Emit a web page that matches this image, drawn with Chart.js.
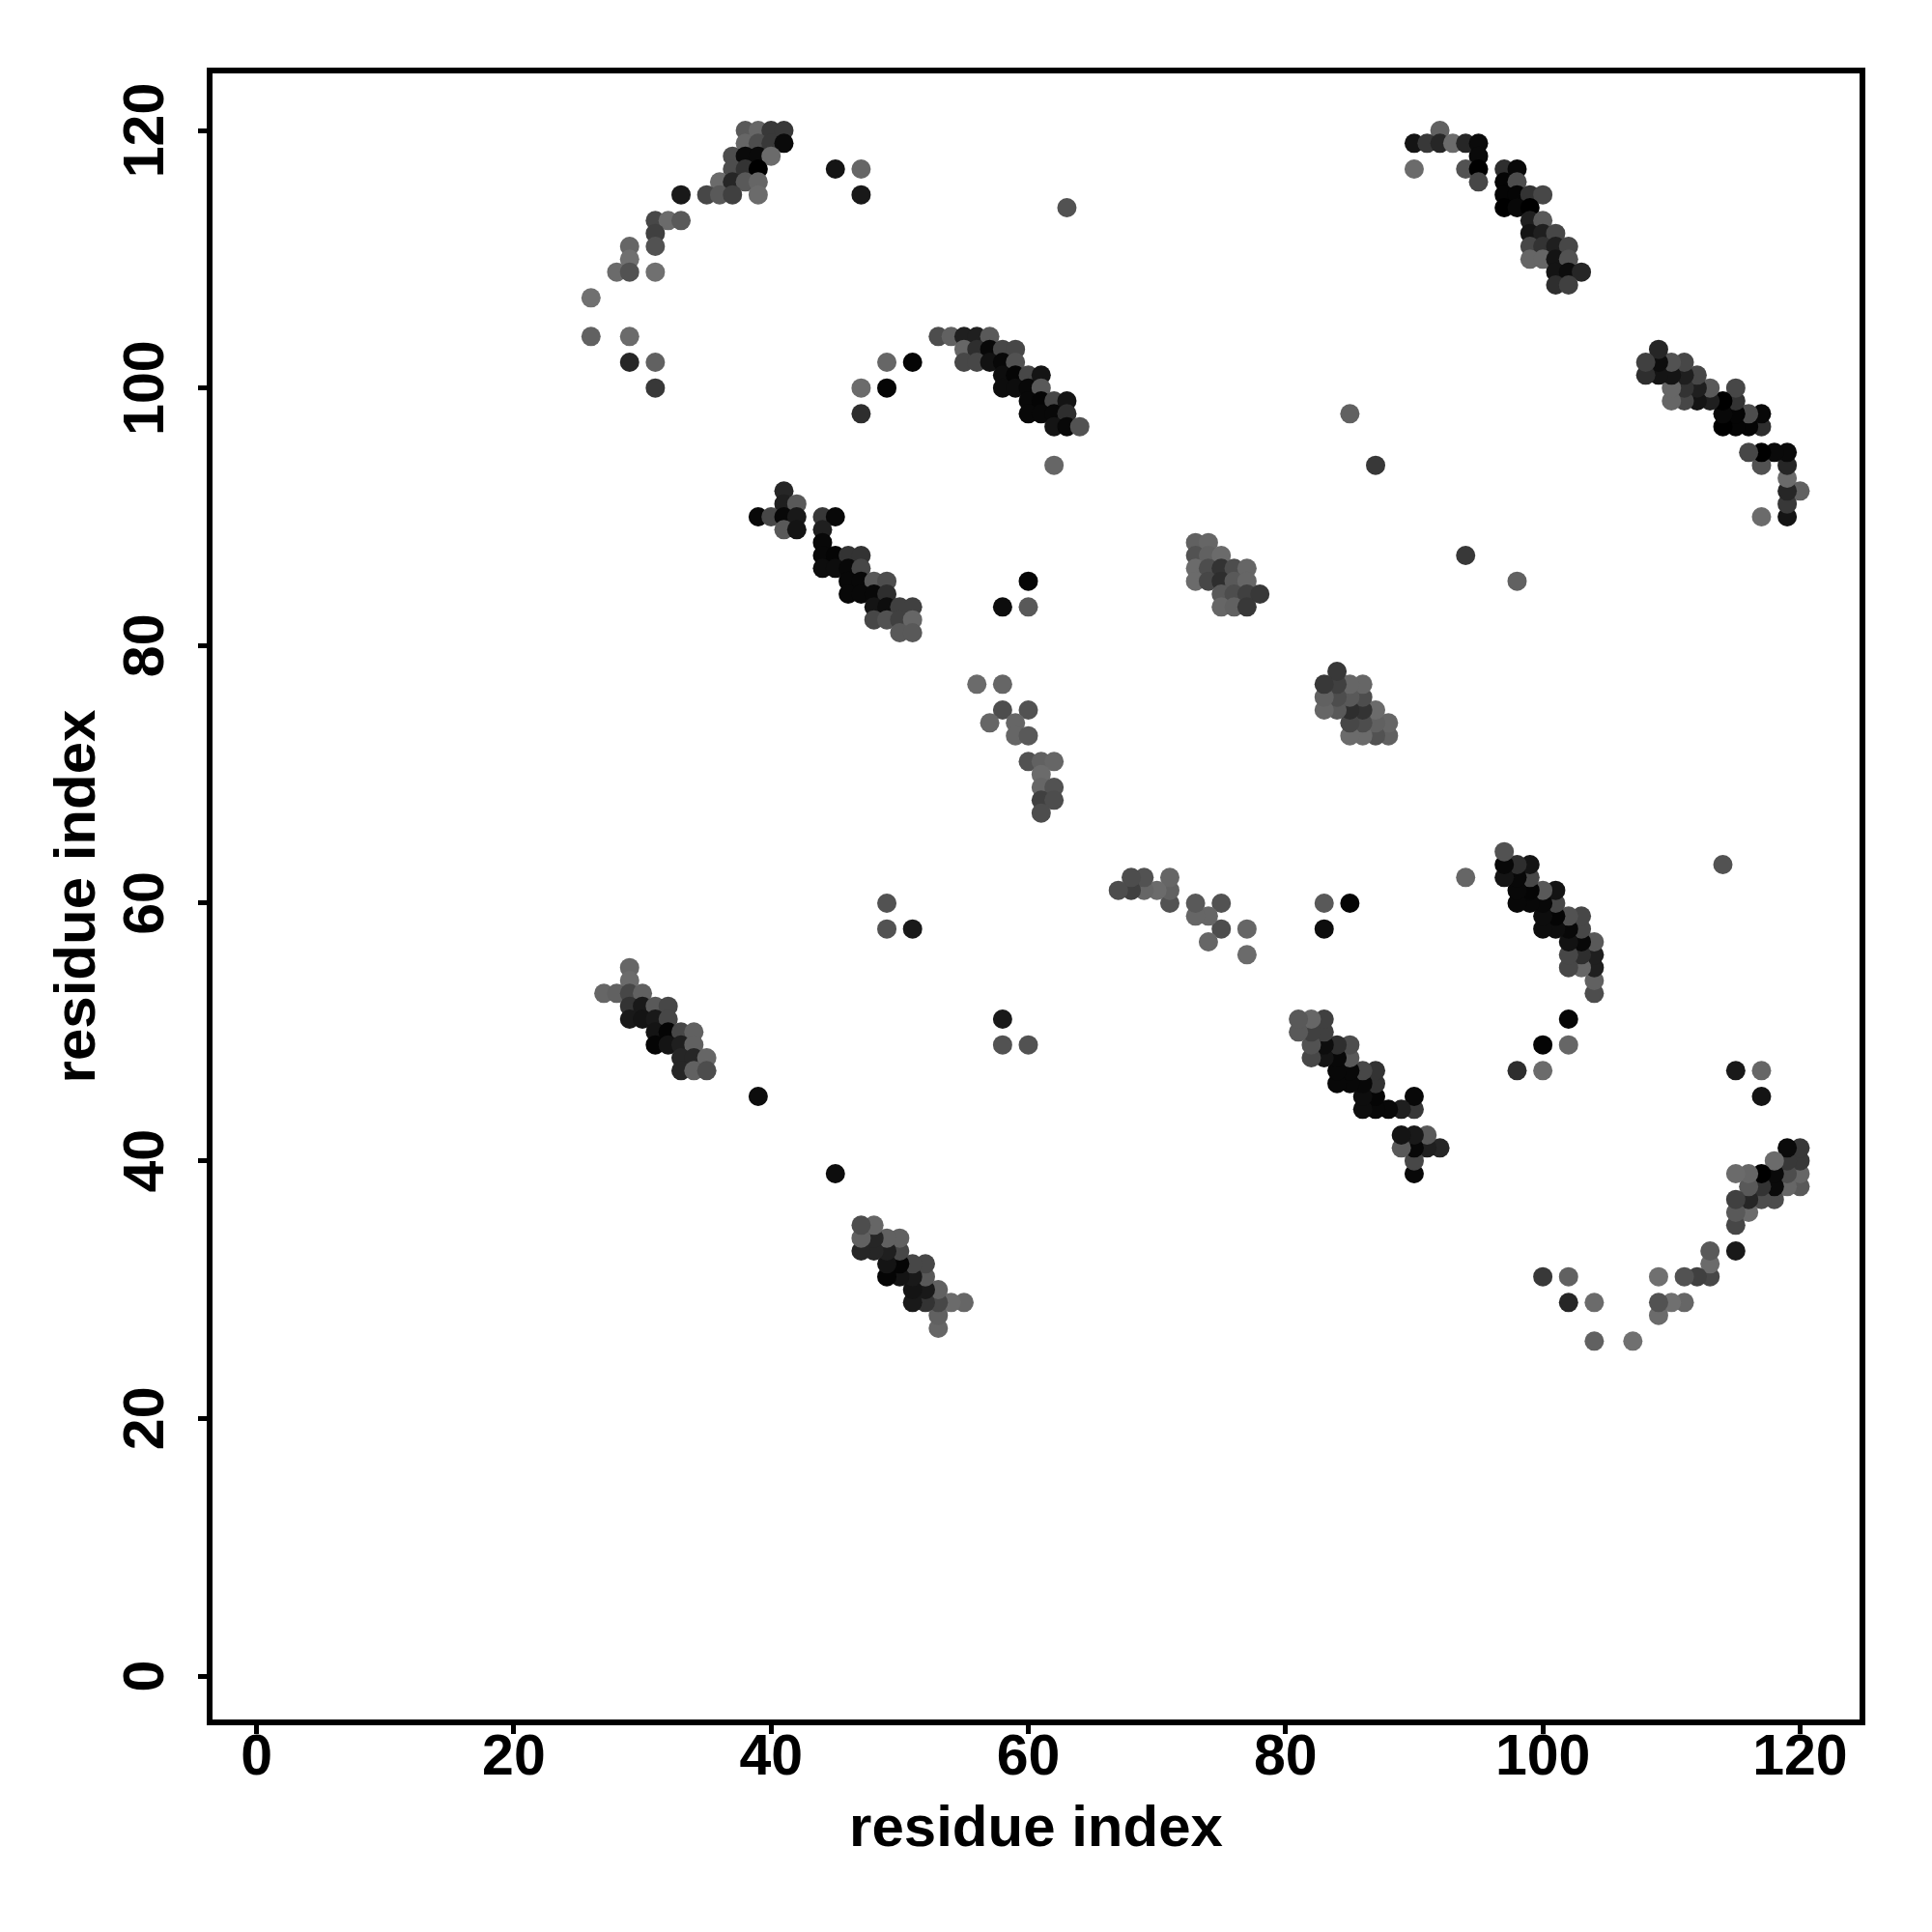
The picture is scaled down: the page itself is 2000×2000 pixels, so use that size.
<!DOCTYPE html>
<html>
<head>
<meta charset="utf-8">
<title>Residue contact map</title>
<script src="https://cdn.jsdelivr.net/npm/chart.js@4"></script>
<style>
  html, body { margin: 0; padding: 0; background: #fff; }
  #wrap { width: 2000px; height: 2000px; }
</style>
</head>
<body>
<div id="wrap"><canvas id="contactMap" width="2000" height="2000"></canvas></div>
<script>
const tickValues = [0, 20, 40, 60, 80, 100, 120];
const axisLabel = "residue index";

// upper triangle only, [i, j, score] - the map is symmetric so j,i is added below
const blockA = [
  [38,120,.65],[39,120,.6],[40,120,.78],[41,120,.78],
  [38,119,.6],[39,119,.7],[40,119,.78],[41,119,.96],
  [37,118,.7],[38,118,.96],[39,118,.96],[40,118,.58],
  [37,117,.7],[38,117,.8],[39,117,1],
  [36,116,.58],[37,116,.85],[38,116,.65],[39,116,.6],
  [33,115,.9],[35,115,.72],[36,115,.65],[37,115,.75],[39,115,.58],
  [31,113,.72],[32,113,.58],[33,113,.65],
  [31,112,.75],
  [29,111,.6],[31,111,.68],
  [29,110,.56],
  [28,109,.58],[29,109,.68],[31,109,.56],
  [26,107,.56],
  [26,104,.62],[29,104,.58],
  [29,102,.85],[31,102,.62],
  [31,100,.78]
];
const blockB = [
  [92,120,.62],
  [90,119,.92],[91,119,.78],[92,119,.85],[93,119,.58],[94,119,.85],[95,119,.96],
  [95,118,.96],
  [90,117,.58],[94,117,.68],[95,117,1],[97,117,.82],[98,117,.97],
  [95,116,.72],[97,116,.98],[98,116,.7],
  [97,115,.98],[98,115,.98],[99,115,.8],[100,115,.72],
  [97,114,1],[98,114,.97],[99,114,1],
  [99,113,.88],[100,113,.65],
  [99,112,.92],[100,112,.88],[101,112,.72],
  [99,111,.72],[100,111,.8],[101,111,.88],[102,111,.72],
  [99,110,.6],[100,110,.6],[101,110,.92],[102,110,.68],
  [101,109,.92],[102,109,.95],[103,109,.85],
  [101,108,.82],[102,108,.75]
];
const blockC = [
  [53,104,.7],[54,104,.62],[55,104,.88],[56,104,.88],[57,104,.65],
  [55,103,.6],[56,103,.82],[57,103,.97],[58,103,.72],[59,103,.72],
  [49,102,.6],[51,102,.98],[55,102,.72],[56,102,.72],[57,102,.93],[58,102,.97],[59,102,.68],
  [58,101,.95],[59,101,.98],[60,101,.72],[61,101,.92],
  [47,100,.58],[49,100,.98],[58,100,.95],[59,100,.95],[60,100,.97],[61,100,.65],
  [60,99,.97],[61,99,.98],[62,99,.72],[63,99,.92],
  [47,98,.82],[60,98,.97],[61,98,.97],[62,98,.97],[63,98,.82],
  [62,97,.92],[63,97,.97],[64,97,.68],
  [62,94,.6]
];
const blockD = [
  [41,92,.85],
  [41,91,.88],[42,91,.65],
  [39,90,.97],[40,90,.72],[41,90,.97],[42,90,.9],[44,90,.78],[45,90,.97],
  [41,89,.65],[42,89,.92],[44,89,.88],
  [44,88,.97],
  [44,87,.97],[45,87,.98],[46,87,.8],[47,87,.8],
  [44,86,.95],[45,86,.95],[46,86,.97],[47,86,.72],
  [46,85,.97],[47,85,.97],[48,85,.65],[49,85,.7],
  [46,84,.97],[47,84,.97],[48,84,.97],[49,84,.82],
  [48,83,.92],[49,83,.95],[50,83,.75],[51,83,.75],
  [48,82,.72],[49,82,.68],[50,82,.75],[51,82,.6],
  [50,81,.65],[51,81,.65]
];
const blockE = [
  [73,88,.62],[74,88,.6],
  [73,87,.68],[74,87,.62],[75,87,.58],
  [73,86,.58],[74,86,.7],[75,86,.8],[76,86,.7],[77,86,.6],
  [73,85,.58],[74,85,.72],[75,85,.82],[76,85,.65],[77,85,.6],
  [75,84,.65],[76,84,.7],[77,84,.75],[78,84,.78],
  [75,83,.6],[76,83,.62],[77,83,.78]
];
const blockF = [
  [56,77,.58],[58,77,.6],
  [58,75,.7],[60,75,.68],
  [57,74,.6],[59,74,.6],
  [59,73,.6],[60,73,.65],
  [60,71,.68],[61,71,.62],[62,71,.6],
  [61,70,.58],
  [61,69,.6],[62,69,.68],
  [61,68,.75],[62,68,.7],
  [61,67,.7]
];
const blockG = [
  [29,55,.6],
  [29,54,.58],
  [27,53,.6],[28,53,.62],[29,53,.72],[30,53,.62],
  [29,52,.8],[30,52,.9],[31,52,.65],[32,52,.72],
  [29,51,.9],[30,51,.92],[31,51,.9],[32,51,.72],
  [31,50,.92],[32,50,.98],[33,50,.72],[34,50,.62],
  [31,49,.98],[32,49,.92],[33,49,.88],[34,49,.62],
  [33,48,.85],[34,48,.85],[35,48,.6],
  [33,47,.85],[34,47,.62],[35,47,.7]
];
const loneContacts = [
  [39,45,.95],[45,117,.92],[47,117,.6],[47,115,.9],[63,114,.68],
  [49,60,.68],[49,58,.68],[51,58,.9],
  [58,83,.95],[60,83,.65],[60,85,.98],
  [85,98,.62],[87,94,.78]
];

const upperTriangle = [...blockA, ...blockB, ...blockC, ...blockD, ...blockE, ...blockF, ...blockG, ...loneContacts];
const contacts = upperTriangle.flatMap(([i, j, s]) => [{ x: i, y: j, s }, { x: j, y: i, s }]);

function scoreToGrey(s) {
  const g = Math.round(255 * (1 - s));
  return `rgb(${g},${g},${g})`;
}

const tickFont = { family: "'Liberation Sans'", size: 59, weight: "bold" };
const titleFont = { family: "'Liberation Sans'", size: 60, weight: "bold" };

// box round the plot plus the rotated y tick labels (R style, las=0)
const boxAndLabels = {
  id: "boxAndLabels",
  afterDraw(chart) {
    const { ctx, chartArea, scales } = chart;
    ctx.save();
    ctx.strokeStyle = "#000";
    ctx.lineWidth = 6;
    ctx.strokeRect(chartArea.left, chartArea.top, chartArea.right - chartArea.left, chartArea.bottom - chartArea.top);
    ctx.fillStyle = "#000";
    ctx.font = `bold ${tickFont.size}px ${tickFont.family}`;
    ctx.textAlign = "center";
    ctx.textBaseline = "middle";
    tickValues.forEach((v) => {
      ctx.save();
      ctx.translate(153, scales.y.getPixelForValue(v));
      ctx.rotate(-Math.PI / 2);
      ctx.fillText(String(v), 0, 0);
      ctx.restore();
    });
    ctx.restore();
  },
};

function useTickValues(scale) {
  scale.ticks = tickValues.map((v) => ({ value: v, label: String(v) }));
}

new Chart(document.getElementById("contactMap"), {
  type: "scatter",
  data: {
    datasets: [
      {
        label: "contacts",
        data: contacts,
        pointRadius: 10,
        pointBorderWidth: 0,
        pointBackgroundColor: contacts.map((c) => scoreToGrey(c.s)),
      },
    ],
  },
  options: {
    responsive: false,
    animation: false,
    layout: { padding: { top: 73, right: 72, left: 0, bottom: 0 } },
    plugins: { legend: { display: false }, tooltip: { enabled: false } },
    scales: {
      x: {
        type: "linear",
        min: -3.65,
        max: 124.85,
        afterBuildTicks: useTickValues,
        afterFit(scale) { scale.height = 217; },
        grid: { drawOnChartArea: false, tickLength: 12, tickWidth: 5, tickColor: "#000" },
        border: { display: false },
        ticks: { color: "#000", font: tickFont, padding: -10, maxRotation: 0, autoSkip: false },
        title: { display: true, text: axisLabel, color: "#000", font: titleFont, padding: { top: 0, bottom: 70 } },
      },
      y: {
        type: "linear",
        min: -3.6,
        max: 124.65,
        afterBuildTicks: useTickValues,
        afterFit(scale) { scale.width = 217; },
        grid: { drawOnChartArea: false, tickLength: 12, tickWidth: 5, tickColor: "#000" },
        border: { display: false },
        ticks: { display: false },
        title: { display: true, text: axisLabel, color: "#000", font: titleFont, padding: { top: 45, bottom: 0 } },
      },
    },
  },
  plugins: [boxAndLabels],
});
</script>
</body>
</html>
